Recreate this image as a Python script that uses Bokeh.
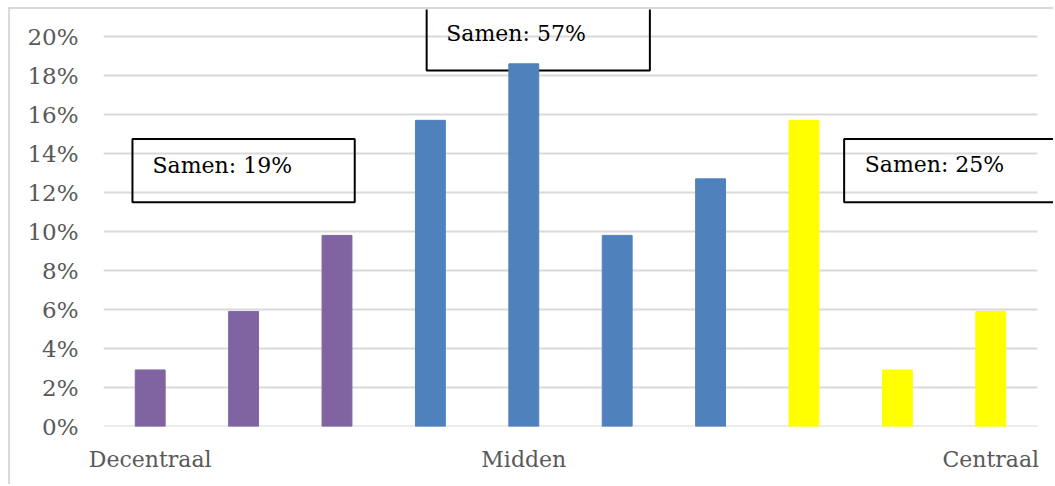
from bokeh.plotting import figure
from bokeh.models import FixedTicker, Range1d, ColumnDataSource
from bokeh.core.properties import value
from bokeh.embed import file_html
from bokeh.resources import INLINE

# ---- data ----
positions = list(range(1, 11))
values = [2.9, 5.9, 9.8, 15.7, 18.6, 9.8, 12.7, 15.7, 2.9, 5.9]
groups = ["Decentraal"] * 3 + ["Midden"] * 4 + ["Centraal"] * 3
group_colors = {"Decentraal": "#8064A2", "Midden": "#4F81BD", "Centraal": "#FFFF00"}
x_tick_labels = {1: "Decentraal", 5: "Midden", 10: "Centraal"}
y_ticks = list(range(0, 21, 2))
y_tick_labels = {t: f"{t}%" for t in y_ticks}
box_texts = ["Samen: 19%", "Samen: 57%", "Samen: 25%"]

FONT = "DejaVu Serif"

src = ColumnDataSource(dict(x=positions, top=values,
                            color=[group_colors[g] for g in groups]))

p = figure(width=1045, height=477, output_backend="svg", toolbar_location=None,
           x_range=Range1d(0.5, 10.693), y_range=Range1d(0, 21.385),
           min_border_left=93, min_border_right=0, min_border_top=0,
           min_border_bottom=60)
p.outline_line_color = None
p.xgrid.visible = False
p.ygrid.visible = False
p.styles = {"margin-left": "8px", "margin-top": "7px",
            "border-left": "2px solid #d9d9d9", "border-top": "2px solid #d9d9d9"}

# gridlines (drawn as segments so they stop at the last category)
p.segment(x0=[0.5] * len(y_ticks), x1=[10.5] * len(y_ticks), y0=y_ticks, y1=y_ticks,
          line_color="#d9d9d9", line_width=2)

# text boxes
box_left = [0.81, 3.96, 8.43]
box_right = [3.19, 6.35, 11.5]
box_top = [14.75, 21.5, 14.75]
box_bottom = [11.5, 18.26, 11.5]
p.quad(left=box_left, right=box_right, top=box_top, bottom=box_bottom,
       fill_color=None, line_color="black", line_width=2)
p.text(x=[1.025, 4.17, 8.65], y=[13.38, 20.15, 13.43], text=box_texts,
       text_font=value(FONT), text_font_size="22px", text_color="black",
       text_align="left", text_baseline="alphabetic")

# bars (drawn on top of the boxes)
p.vbar(x="x", top="top", width=0.32, color="color", source=src)

# axes
p.yaxis.ticker = FixedTicker(ticks=y_ticks)
p.yaxis.major_label_overrides = y_tick_labels
p.yaxis.axis_line_color = None
p.yaxis.major_tick_line_color = None
p.yaxis.minor_tick_line_color = None
p.yaxis.major_tick_out = 0
p.yaxis.major_label_standoff = 25
p.yaxis.major_label_text_font = FONT
p.yaxis.major_label_text_font_size = "23px"
p.yaxis.major_label_text_color = "#595959"

p.xaxis.ticker = FixedTicker(ticks=list(x_tick_labels.keys()))
p.xaxis.major_label_overrides = x_tick_labels
p.xaxis.axis_line_color = None
p.xaxis.major_tick_line_color = None
p.xaxis.minor_tick_line_color = None
p.xaxis.major_tick_out = 0
p.xaxis.major_label_standoff = 20
p.xaxis.major_label_text_font = FONT
p.xaxis.major_label_text_font_size = "22px"
p.xaxis.major_label_text_color = "#595959"

open("out.html", "w").write(file_html(p, INLINE))
